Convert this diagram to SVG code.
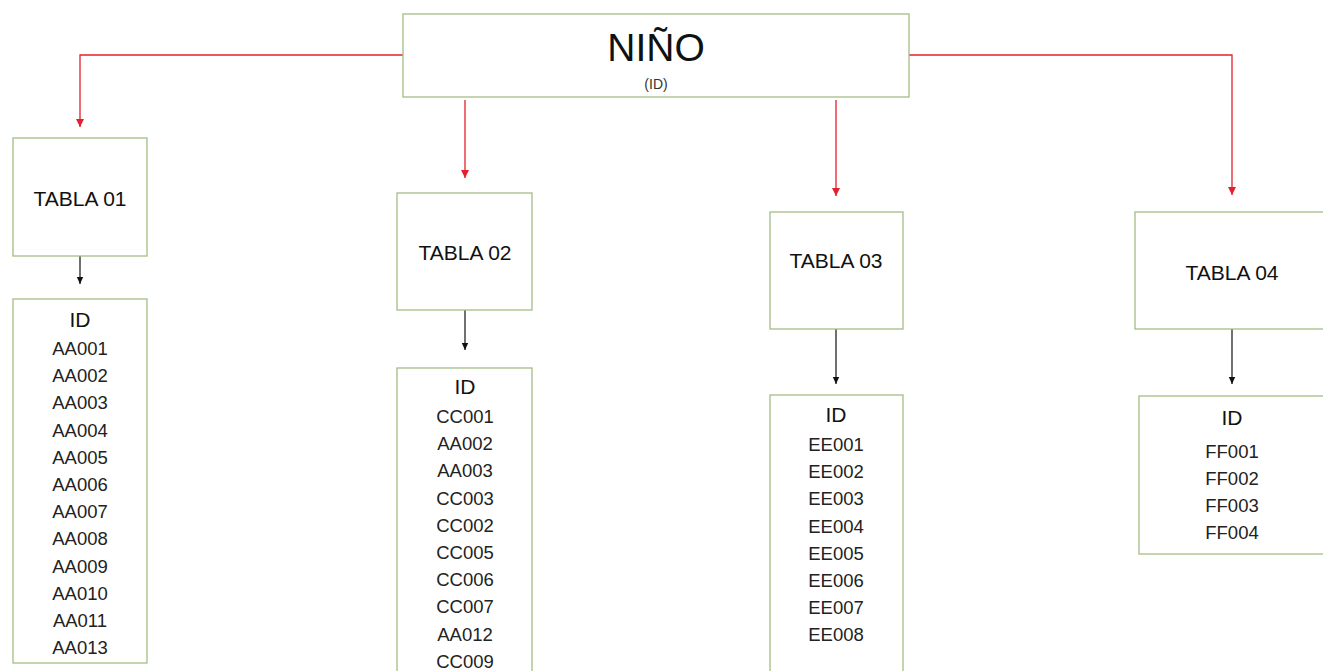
<svg xmlns="http://www.w3.org/2000/svg" width="1323" height="671" viewBox="0 0 1323 671">
<style>
.box{fill:#fff;stroke:#a3bd86;stroke-width:1.3}
.red{fill:none;stroke:#e3202c;stroke-width:1.3}
.blk{fill:none;stroke:#111;stroke-width:1.2}
text{font-family:"Liberation Sans",Arial,sans-serif;fill:#111;text-anchor:middle}
.t{font-size:21px}
.i{font-size:18.5px;fill:#222}
</style>
<defs>
<marker id="ar" markerUnits="userSpaceOnUse" markerWidth="10" markerHeight="10" refX="9" refY="5" orient="auto"><path d="M1,1 L9,5 L1,9 Z" fill="#e3202c"/></marker>
<marker id="ab" markerUnits="userSpaceOnUse" markerWidth="8" markerHeight="8" refX="7" refY="4" orient="auto"><path d="M0,0.8 L7,4 L0,7.2 Z" fill="#111"/></marker>
</defs>
<g id="connectors">
<path class="red" d="M403,55 H80 V127" marker-end="url(#ar)"/>
<path class="red" d="M909,55 H1232 V195" marker-end="url(#ar)"/>
<path class="red" d="M465,100 V178" marker-end="url(#ar)"/>
<path class="red" d="M836,100 V196" marker-end="url(#ar)"/>
<path class="blk" d="M80,256 V284" marker-end="url(#ab)"/>
<path class="blk" d="M465,310 V350" marker-end="url(#ab)"/>
<path class="blk" d="M836,329 V384" marker-end="url(#ab)"/>
<path class="blk" d="M1232,329 V384" marker-end="url(#ab)"/>
</g>
<g id="nino">
<rect class="box" x="403" y="14" width="506" height="83"/>
<text x="656" y="61" style="font-size:39px">NIÑO</text>
<text x="656" y="89" style="font-size:14px;fill:#333">(ID)</text>
</g>
<g id="tabla01">
<rect class="box" x="13" y="138" width="134" height="118"/>
<text class="t" x="80" y="206">TABLA 01</text>
</g>
<g id="ids01">
<rect class="box" x="13" y="299" width="134" height="364"/>
<text class="t" x="80" y="327">ID</text>
<text class="i" x="80" y="355">AA001</text>
<text class="i" x="80" y="382.2">AA002</text>
<text class="i" x="80" y="409.4">AA003</text>
<text class="i" x="80" y="436.6">AA004</text>
<text class="i" x="80" y="463.8">AA005</text>
<text class="i" x="80" y="491">AA006</text>
<text class="i" x="80" y="518.2">AA007</text>
<text class="i" x="80" y="545.4">AA008</text>
<text class="i" x="80" y="572.6">AA009</text>
<text class="i" x="80" y="599.8">AA010</text>
<text class="i" x="80" y="627">AA011</text>
<text class="i" x="80" y="654.2">AA013</text>
</g>
<g id="tabla02">
<rect class="box" x="397" y="193" width="135" height="117"/>
<text class="t" x="465" y="260">TABLA 02</text>
</g>
<g id="ids02">
<rect class="box" x="397" y="368" width="135" height="320"/>
<text class="t" x="465" y="394">ID</text>
<text class="i" x="465" y="423">CC001</text>
<text class="i" x="465" y="450.2">AA002</text>
<text class="i" x="465" y="477.4">AA003</text>
<text class="i" x="465" y="504.6">CC003</text>
<text class="i" x="465" y="531.8">CC002</text>
<text class="i" x="465" y="559">CC005</text>
<text class="i" x="465" y="586.2">CC006</text>
<text class="i" x="465" y="613.4">CC007</text>
<text class="i" x="465" y="640.6">AA012</text>
<text class="i" x="465" y="667.8">CC009</text>
</g>
<g id="tabla03">
<rect class="box" x="770" y="212" width="133" height="117"/>
<text class="t" x="836" y="268">TABLA 03</text>
</g>
<g id="ids03">
<rect class="box" x="770" y="395" width="133" height="293"/>
<text class="t" x="836" y="422">ID</text>
<text class="i" x="836" y="451">EE001</text>
<text class="i" x="836" y="478.2">EE002</text>
<text class="i" x="836" y="505.4">EE003</text>
<text class="i" x="836" y="532.6">EE004</text>
<text class="i" x="836" y="559.8">EE005</text>
<text class="i" x="836" y="587">EE006</text>
<text class="i" x="836" y="614.2">EE007</text>
<text class="i" x="836" y="641.4">EE008</text>
</g>
<g id="tabla04">
<rect class="box" x="1135" y="212" width="196" height="117"/>
<text class="t" x="1232" y="280">TABLA 04</text>
</g>
<g id="ids04">
<rect class="box" x="1139" y="396" width="190" height="158"/>
<text class="t" x="1232" y="425">ID</text>
<text class="i" x="1232" y="458">FF001</text>
<text class="i" x="1232" y="485">FF002</text>
<text class="i" x="1232" y="512">FF003</text>
<text class="i" x="1232" y="539">FF004</text>
</g>
</svg>
